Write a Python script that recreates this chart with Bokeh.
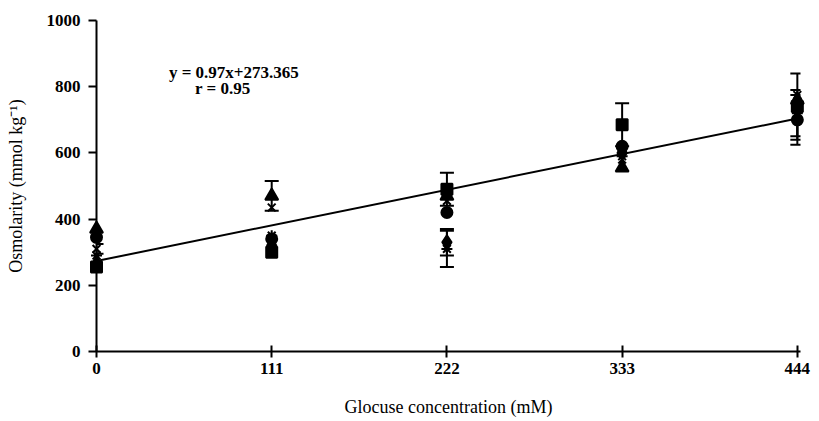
from bokeh.plotting import figure
from bokeh.models import ColumnDataSource, Whisker, TeeHead, Range1d, Label, FixedTicker
from bokeh.embed import file_html
from bokeh.resources import INLINE

glucose = [0, 111, 222, 333, 444]

diamond = [265, 320, 330, 600, 730]
square = [255, 300, 490, 685, 740]
triangle = [370, 470, 470, 555, 760]
xmark = [310, 435, 455, 580, 775]
star = [290, 350, 310, 590, 720]
circle = [345, 340, 420, 620, 700]

diamond_err = [0, 0, 40, 0, 0]
square_err = [0, 0, 50, 65, 100]
triangle_err = [0, 45, 0, 0, 0]
xmark_err = [15, 0, 0, 0, 0]
star_err = [0, 0, 55, 0, 70]
circle_err = [0, 0, 0, 0, 75]

slope = 0.97
intercept = 273.365

p = figure(width=819, height=421, output_backend="svg", toolbar_location=None,
           x_range=Range1d(0, 446), y_range=Range1d(0, 1000),
           min_border_left=96, min_border_right=19, min_border_top=20, min_border_bottom=70)
p.outline_line_color = None
p.grid.grid_line_color = None
p.background_fill_color = "white"

# trendline
p.line([glucose[0], glucose[-1]], [intercept + slope * glucose[0], intercept + slope * glucose[-1]],
       line_color="black", line_width=2, level="overlay")

series = [
    (diamond, diamond_err, "diamond", 14),
    (square, square_err, "square", 11),
    (triangle, triangle_err, "triangle", 13),
    (xmark, xmark_err, "x", 11),
    (star, star_err, "asterisk", 11),
    (circle, circle_err, "circle", 11),
]
for vals, err, m, s in series:
    xs = [g for g, e in zip(glucose, err) if e > 0]
    lo = [v - e for v, e in zip(vals, err) if e > 0]
    hi = [v + e for v, e in zip(vals, err) if e > 0]
    if xs:
        src = ColumnDataSource(dict(x=xs, lo=lo, hi=hi))
        w = Whisker(source=src, base="x", lower="lo", upper="hi", line_color="black", line_width=2,
                    upper_head=TeeHead(size=14, line_color="black", line_width=2),
                    lower_head=TeeHead(size=14, line_color="black", line_width=2), level="overlay")
        p.add_layout(w)
    p.scatter(glucose, vals, marker=m, size=s, fill_color="black", line_color="black",
              line_width=2, level="overlay")

for ax in (p.xaxis, p.yaxis):
    ax.axis_line_width = 2
    ax.axis_line_color = "black"
    ax.major_tick_line_width = 2
    ax.minor_tick_line_color = None
    ax.major_label_text_font = "Liberation Serif"
    ax.major_label_text_font_style = "bold"
    ax.major_label_text_font_size = "17px"
    ax.major_label_text_color = "black"
    ax.axis_label_text_font = "Liberation Serif"
    ax.axis_label_text_font_style = "normal"
    ax.axis_label_text_font_size = "18px"
    ax.axis_label_text_color = "black"

p.xaxis.ticker = FixedTicker(ticks=glucose)
p.xaxis.major_tick_in = 6
p.xaxis.major_tick_out = 6
p.xaxis.major_label_standoff = 5
p.xaxis.axis_label = "Glocuse concentration (mM)"
p.xaxis.axis_label_standoff = 20

p.yaxis.ticker = FixedTicker(ticks=[0, 200, 400, 600, 800, 1000])
p.yaxis.major_tick_in = 0
p.yaxis.major_tick_out = 8
p.yaxis.major_label_standoff = 8
p.yaxis.axis_label = "Osmolarity (mmol kg\u207b\u00b9)"
p.yaxis.axis_label_standoff = 18

p.add_layout(Label(x=87, y=843, text="y = 0.97x+273.365",
                   text_align="center", text_baseline="middle", text_font="Liberation Serif",
                   text_font_style="bold", text_font_size="17px", text_color="black"))
p.add_layout(Label(x=80, y=795, text="r = 0.95",
                   text_align="center", text_baseline="middle", text_font="Liberation Serif",
                   text_font_style="bold", text_font_size="17px", text_color="black"))

open("out.html", "w").write(file_html(p, INLINE))
